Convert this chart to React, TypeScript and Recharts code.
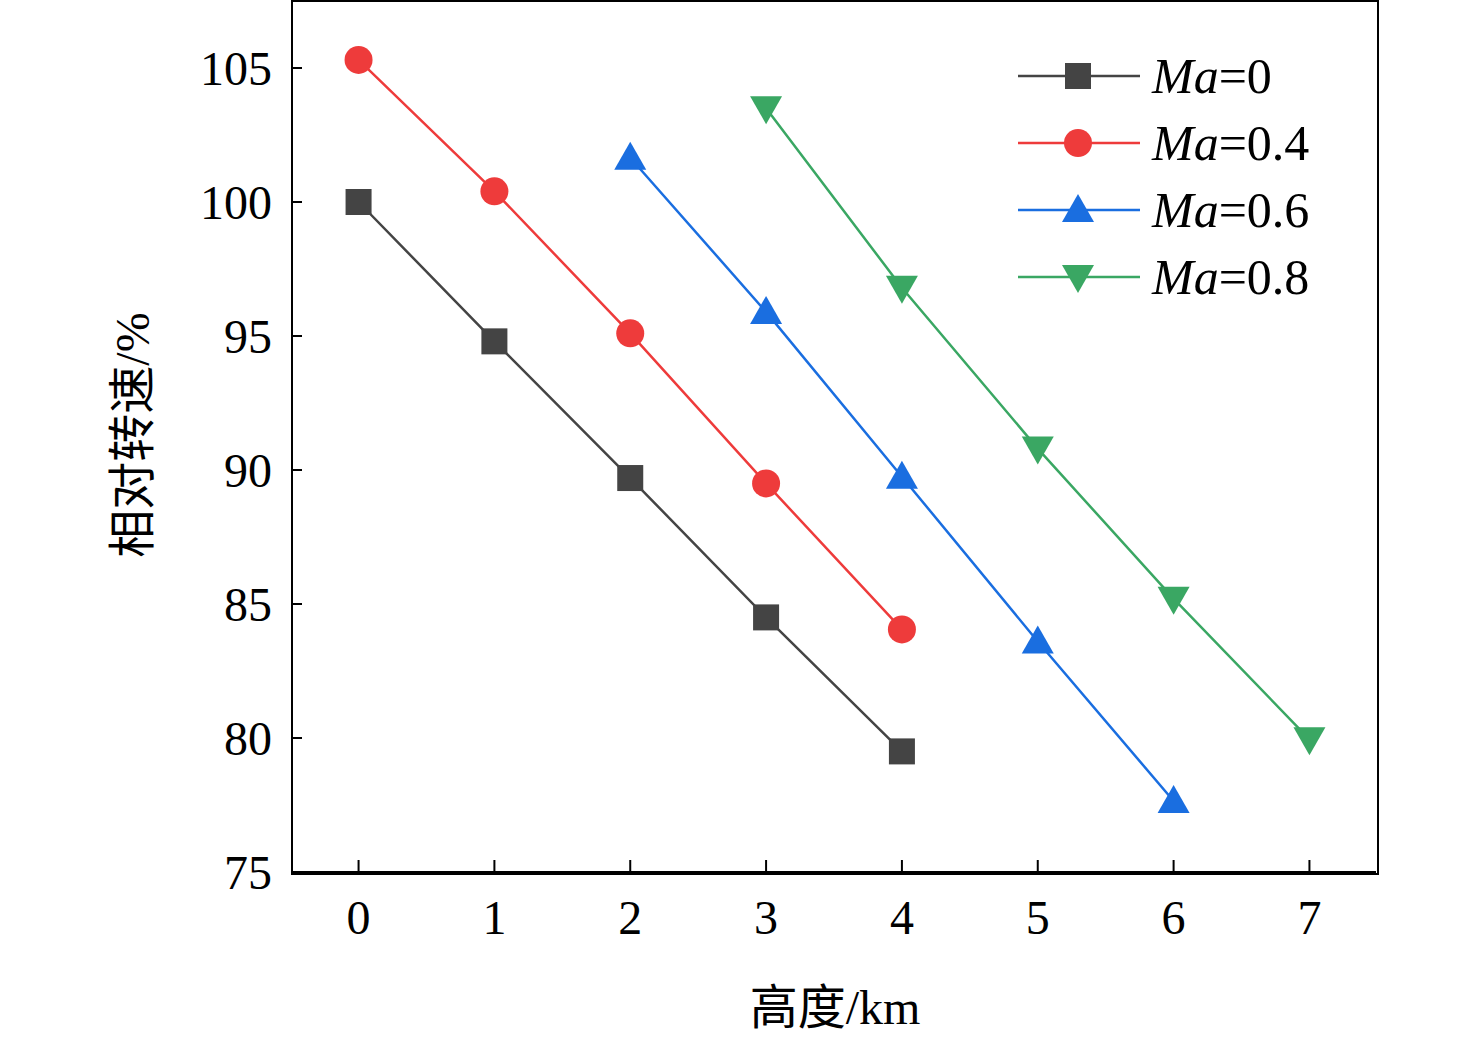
import React from 'react';
import { LineChart, Line, XAxis, YAxis } from 'recharts';

const ma0 = [100, 94.8, 89.7, 84.5, 79.5];
const ma04 = [105.3, 100.4, 95.1, 89.5, 84.05];
const ma06 = [101.65, 95.9, 89.75, 83.6, 77.65];
const ma08 = [103.5, 96.8, 90.8, 85.2, 79.95];
const xStart = [0, 0, 2, 3];
const names = ['0', '0.4', '0.6', '0.8'];
const colors = ['#444444', '#ee3b3b', '#1a6ee0', '#3aa763'];
const shapes = ['square', 'circle', 'up', 'down'];
const xTicks = [0, 1, 2, 3, 4, 5, 6, 7];
const yTicks = [75, 80, 85, 90, 95, 100, 105];

const FONT = '"Liberation Serif", "Times New Roman", serif';

function Marker({ cx, cy, kind, color }: any) {
  if (cx == null || cy == null) return null;
  if (kind === 'square') return <rect x={cx - 13} y={cy - 13} width={26} height={26} fill={color} />;
  if (kind === 'circle') return <circle cx={cx} cy={cy} r={14} fill={color} />;
  if (kind === 'up') return <polygon points={`${cx},${cy - 16} ${cx - 16},${cy + 12} ${cx + 16},${cy + 12}`} fill={color} />;
  return <polygon points={`${cx},${cy + 16} ${cx - 16},${cy - 12} ${cx + 16},${cy - 12}`} fill={color} />;
}

const series = [ma0, ma04, ma06, ma08].map((vals, i) => ({
  name: names[i],
  color: colors[i],
  shape: shapes[i],
  data: vals.map((v, j) => ({ x: xStart[i] + j, y: v })),
}));

function LegendBox() {
  return (
    <div style={{ position: 'absolute', left: 1018, top: 42, fontFamily: FONT, fontSize: 50 }}>
      {series.map((s) => (
        <div key={s.name} style={{ display: 'flex', alignItems: 'center', height: 67 }}>
          <svg width={122} height={40}>
            <line x1={0} y1={20} x2={122} y2={20} stroke={s.color} strokeWidth={2.5} />
            <Marker cx={60} cy={20} kind={s.shape} color={s.color} />
          </svg>
          <span style={{ marginLeft: 12 }}><i>Ma</i>={s.name}</span>
        </div>
      ))}
    </div>
  );
}

export default function App() {
  const tickStyle = { fontFamily: FONT, fontSize: 48, fill: '#000' };
  return (
    <div style={{ position: 'absolute', left: 0, top: 0, width: 1476, height: 1040, background: '#fff' }}>
      <LineChart width={1476} height={1040} margin={{ top: 1, right: 100, left: 202, bottom: 108 }}>
        <XAxis type="number" dataKey="x" domain={[-0.49, 7.49]} ticks={xTicks} tick={tickStyle}
          tickMargin={40} tickSize={-12} stroke="#000" strokeWidth={2} height={60} />
        <YAxis type="number" domain={[75, 107.5]} ticks={yTicks} tick={tickStyle} tickSize={-10} tickMargin={30}
          stroke="#000" strokeWidth={2} width={90} />
        {series.map((s) => (
          <Line key={s.name} data={s.data} dataKey="y" type="linear" stroke={s.color} strokeWidth={2.5}
            isAnimationActive={false} dot={(p: any) => <Marker key={p.index} cx={p.cx} cy={p.cy} kind={s.shape} color={s.color} />}
            activeDot={false} />
        ))}
      </LineChart>
      <div style={{ position: 'absolute', left: 291, top: 0, width: 1084, height: 871, border: '2px solid #000', pointerEvents: 'none' }} />
      <LegendBox />
      <div style={{ position: 'absolute', left: 128, top: 435, transform: 'translate(-50%,-50%) rotate(-90deg)', fontFamily: FONT, fontSize: 48, whiteSpace: 'nowrap' }}>
        <span style={{ fontFamily: '"Noto Sans CJK SC"' }}>相对转速</span>/%
      </div>
      <div style={{ position: 'absolute', left: 835, top: 1003, transform: 'translate(-50%,-50%)', fontFamily: FONT, fontSize: 48, whiteSpace: 'nowrap' }}>
        <span style={{ fontFamily: '"Noto Sans CJK SC"' }}>高度</span>/km
      </div>
    </div>
  );
}
